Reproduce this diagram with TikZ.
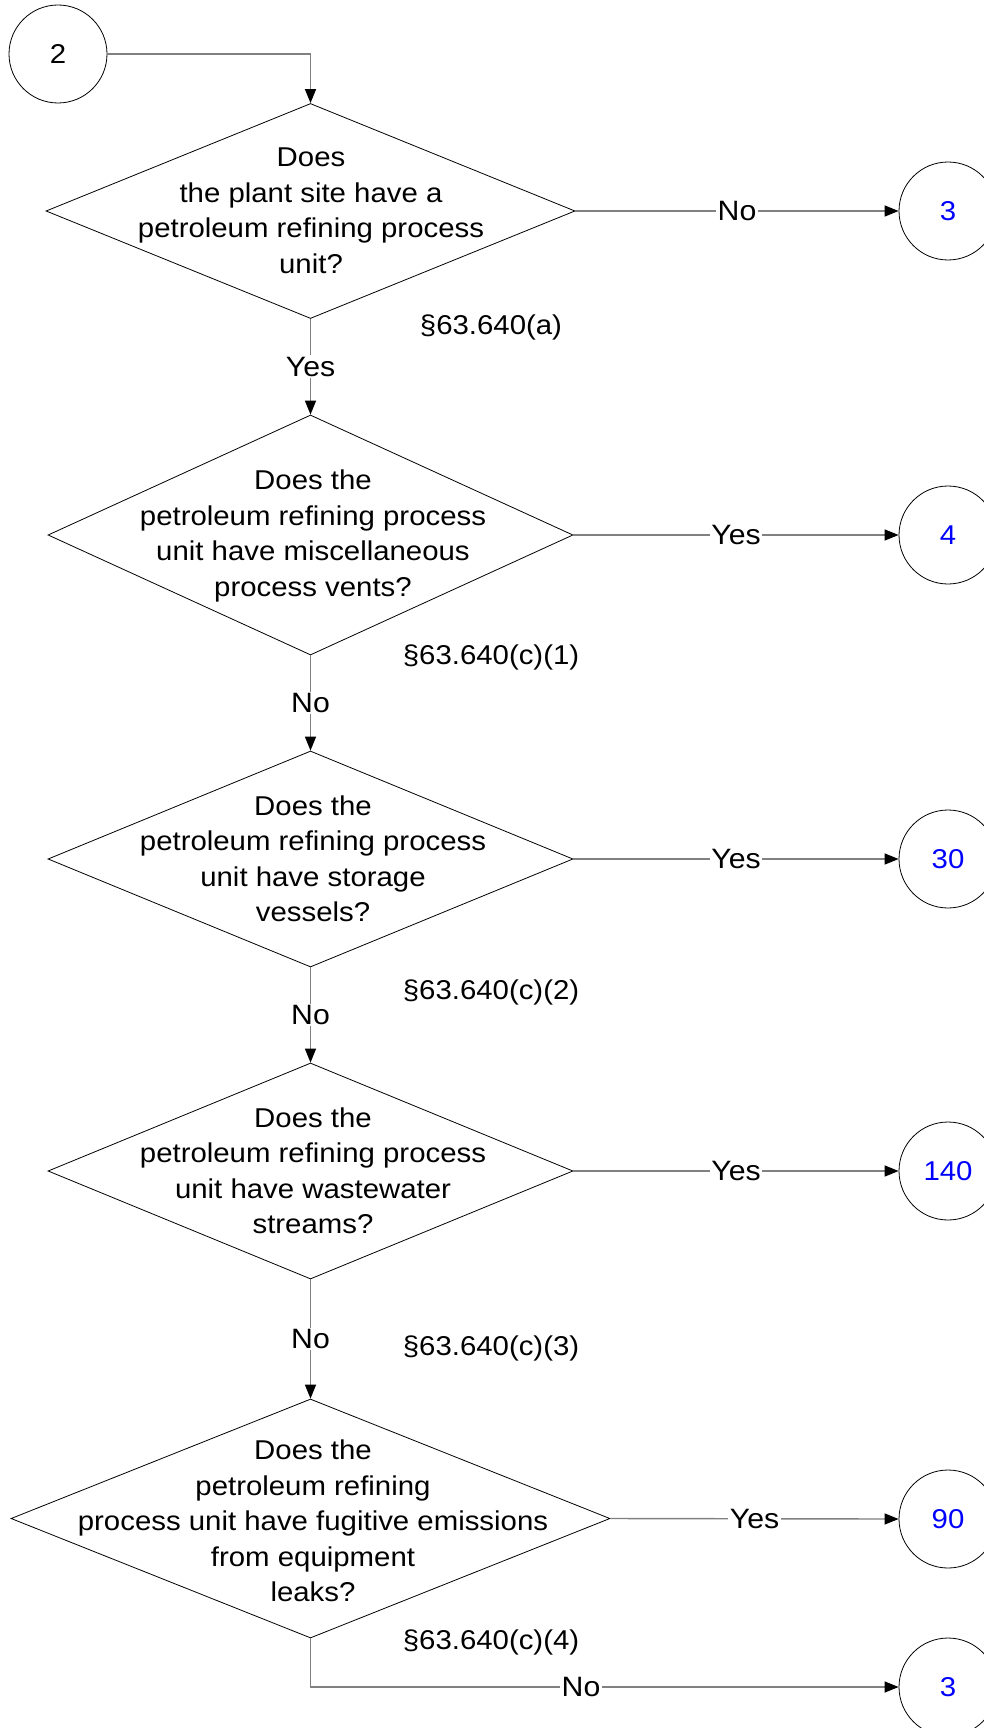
\documentclass[tikz,border=0pt]{standalone}
\usepackage{fontspec}
\setmainfont[FakeStretch=1.08]{Liberation Sans}
\usetikzlibrary{shapes.geometric,arrows.meta}
\tikzset{
  dia/.style={draw=black, line width=0.4pt, shape=diamond, inner sep=0pt},
  qtext/.style={align=center, inner sep=0pt, font=\fontsize{13.6pt}{17.75pt}\selectfont},
  conn/.style={draw=black!50, line width=0.7pt, -{Triangle[length=7pt,width=5.5pt,color=black]}},
  lab/.style={fill=white, inner sep=0.8pt, font=\fontsize{14pt}{16pt}\selectfont},
  ref/.style={inner sep=0pt, font=\fontsize{13.6pt}{16pt}\selectfont},
  conncirc/.style={draw=black, line width=0.4pt, circle, minimum size=49pt, inner sep=0pt, font=\fontsize{13.6pt}{16pt}\selectfont},
  offpage/.style={conncirc, text=blue}
}
\begin{document}
\begin{tikzpicture}[x=0.5pt,y=-0.5pt]
\useasboundingbox (0,0) rectangle (984,1728);
\fill[white] (0,0) rectangle (984,1728);

% start connector
\node[conncirc] (c2) at (58,54) {2};

% decision 1
\node[dia, minimum width=264.5pt, minimum height=107.5pt] (d1) at (310.5,211) {};
\node[qtext] (t1) at (311,211) {Does\\the plant site have a\\petroleum refining process\\unit?};
\node[offpage] (o3a) at (948,211) {3};
\node[ref] (r1) at (491,327) {§63.640(a)};

% decision 2
\node[dia, minimum width=262.5pt, minimum height=120pt] (d2) at (310.5,535) {};
\node[qtext] (t2) at (313,536) {Does the\\petroleum refining process\\unit have miscellaneous\\process vents?};
\node[offpage] (o4) at (948,535) {4};
\node[ref] (r2) at (491,657) {§63.640(c)(1)};

% decision 3
\node[dia, minimum width=262.5pt, minimum height=108pt] (d3) at (310.5,859) {};
\node[qtext] (t3) at (313,859) {Does the\\petroleum refining process\\unit have storage\\vessels?};
\node[offpage] (o30) at (948,859) {30};
\node[ref] (r3) at (491,992) {§63.640(c)(2)};

% decision 4
\node[dia, minimum width=262.5pt, minimum height=108pt] (d4) at (310.5,1171) {};
\node[qtext] (t4) at (313,1171) {Does the\\petroleum refining process\\unit have wastewater\\streams?};
\node[offpage] (o140) at (948,1171) {140};
\node[ref] (r4) at (491,1348) {§63.640(c)(3)};

% decision 5
\node[dia, minimum width=299.5pt, minimum height=119.5pt] (d5) at (310.5,1518.5) {};
\node[qtext] (t5) at (313,1521) {Does the\\petroleum refining\\process unit have fugitive emissions\\from equipment\\leaks?};
\node[offpage] (o90) at (948,1519) {90};
\node[ref] (r5) at (491,1642) {§63.640(c)(4)};
\node[offpage] (o3b) at (948,1687) {3};

% connectors
\draw[conn] (c2.east) -| (d1.north);
\draw[conn] (d1.east) -- node[lab] {No} (o3a.west);
\draw[conn] (d1.south) -- node[lab] {Yes} (d2.north);
\draw[conn] (d2.east) -- node[lab] {Yes} (o4.west);
\draw[conn] (d2.south) -- node[lab] {No} (d3.north);
\draw[conn] (d3.east) -- node[lab] {Yes} (o30.west);
\draw[conn] (d3.south) -- node[lab] {No} (d4.north);
\draw[conn] (d4.east) -- node[lab] {Yes} (o140.west);
\draw[conn] (d4.south) -- node[lab] {No} (d5.north);
\draw[conn] (d5.east) -- node[lab] {Yes} (o90.west);
\draw[conn] (d5.south) |- node[lab, pos=0.73] {No} (o3b.west);
\end{tikzpicture}
\end{document}
